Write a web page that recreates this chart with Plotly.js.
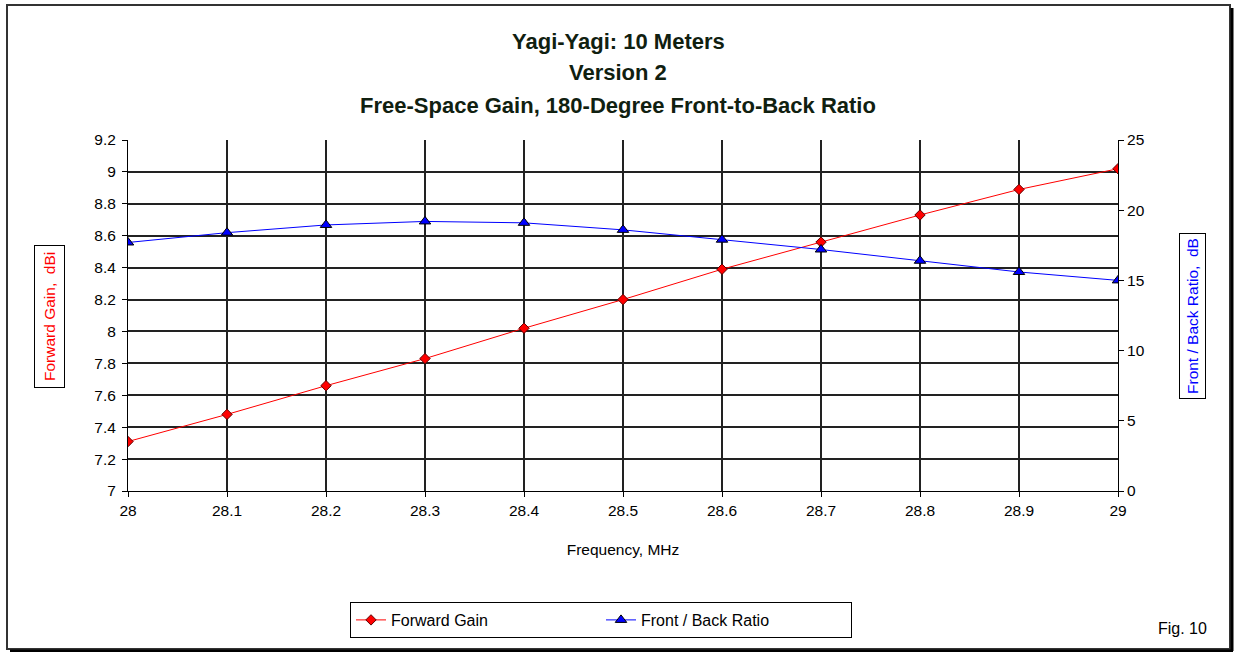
<!DOCTYPE html>
<html>
<head>
<meta charset="utf-8">
<script src="https://cdn.plot.ly/plotly-3.0.1.min.js"></script>
<style>
html,body{margin:0;padding:0;background:#fff;}
#chart{width:1236px;height:652px;}
</style>
</head>
<body>
<div id="chart"></div>
<script>
const frequency = [28, 28.1, 28.2, 28.3, 28.4, 28.5, 28.6, 28.7, 28.8, 28.9, 29];
const forwardGain = [7.31, 7.48, 7.66, 7.83, 8.02, 8.20, 8.39, 8.56, 8.73, 8.89, 9.02];
const frontBack = [17.7, 18.4, 18.95, 19.2, 19.1, 18.6, 17.9, 17.2, 16.4, 15.6, 15.0];
const titleLines = ["Yagi-Yagi: 10 Meters", "Version 2", "Free-Space Gain, 180-Degree Front-to-Back Ratio"];

const W = 1236, H = 652;
const L = 128, R = 118, T = 140, B = 161;
const pw = W - L - R, ph = H - T - B;
const px = x => (x - L) / pw;
const py = y => (H - B - y) / ph;

const tickFont = {family: "Liberation Sans, Arial, sans-serif", size: 15.5, color: "#000"};

const traces = [
  {
    x: frequency, y: forwardGain, name: "Forward Gain", type: "scatter", mode: "lines+markers",
    line: {color: "#ff0000", width: 1},
    marker: {symbol: "diamond", size: 8, color: "#ff0000", line: {color: "#600000", width: 1}},
    yaxis: "y"
  },
  {
    x: frequency, y: frontBack, name: "Front / Back Ratio", type: "scatter", mode: "lines+markers",
    line: {color: "#0000ff", width: 1},
    marker: {symbol: "triangle-up", size: 10, color: "#0000ff", line: {color: "#000", width: 1}},
    yaxis: "y2"
  }
];

const titleYs = [42, 73, 105];
const annotations = titleLines.map((t, i) => ({
  text: "<b>" + t + "</b>", xref: "paper", yref: "paper", x: px(618), y: py(titleYs[i]),
  xanchor: "center", yanchor: "middle", showarrow: false,
  font: {family: "Liberation Sans Narrow, Arial Narrow, Liberation Sans, Arial, sans-serif", size: 22, color: "#102010"}
}));
annotations.push({
  text: "Forward Gain,  dBi", xref: "paper", yref: "paper", x: px(49), y: py(317),
  xanchor: "center", yanchor: "middle", showarrow: false, textangle: -90,
  font: {family: "Liberation Sans, Arial, sans-serif", size: 15.5, color: "#ff0000"},
  bordercolor: "#000", borderwidth: 1, borderpad: 6, bgcolor: "#fff"
});
annotations.push({
  text: "Front / Back Ratio,  dB", xref: "paper", yref: "paper", x: px(1192), y: py(316),
  xanchor: "center", yanchor: "middle", showarrow: false, textangle: -90,
  font: {family: "Liberation Sans, Arial, sans-serif", size: 15.5, color: "#0000ff"},
  bordercolor: "#000", borderwidth: 1, borderpad: 4, bgcolor: "#fff"
});
annotations.push({
  text: "Fig. 10", xref: "paper", yref: "paper", x: px(1182), y: py(628),
  xanchor: "center", yanchor: "middle", showarrow: false,
  font: {family: "Liberation Sans, Arial, sans-serif", size: 16, color: "#000"}
});

const shapes = [
  {type: "rect", xref: "paper", yref: "paper", x0: px(7), x1: px(1230), y0: py(5), y1: py(649),
   line: {color: "#333", width: 2}, fillcolor: "rgba(0,0,0,0)", layer: "below"},
  {type: "line", xref: "paper", yref: "paper", x0: px(1232), x1: px(1232), y0: py(8), y1: py(651),
   line: {color: "#000", width: 3}},
  {type: "line", xref: "paper", yref: "paper", x0: px(10), x1: px(1233), y0: py(651), y1: py(651),
   line: {color: "#000", width: 3}}
];

const layout = {
  width: W, height: H,
  margin: {l: L, r: R, t: T, b: B, pad: 0},
  paper_bgcolor: "#fff", plot_bgcolor: "#fff",
  showlegend: true,
  legend: {
    orientation: "h", x: px(350), y: py(602), xanchor: "left", yanchor: "top",
    bordercolor: "#000", borderwidth: 1, bgcolor: "#fff",
    entrywidth: 205, entrywidthmode: "pixels",
    font: {family: "Liberation Sans, Arial, sans-serif", size: 16, color: "#000"}
  },
  xaxis: {
    range: [28, 29], dtick: 0.1, tick0: 28,
    showgrid: true, gridcolor: "#222", gridwidth: 2,
    showline: true, linecolor: "#000", linewidth: 1, mirror: false,
    ticks: "outside", ticklen: 5, tickcolor: "#000",
    tickfont: tickFont, zeroline: false,
    title: {text: "Frequency, MHz", font: tickFont, standoff: 26}
  },
  yaxis: {
    range: [7, 9.2], dtick: 0.2, tick0: 7,
    showgrid: true, gridcolor: "#222", gridwidth: 2,
    showline: true, linecolor: "#000", linewidth: 1,
    ticks: "outside", ticklen: 5, tickcolor: "#000",
    tickfont: tickFont, zeroline: false, ticklabelstandoff: 3
  },
  yaxis2: {
    range: [0, 25], dtick: 5, tick0: 0, overlaying: "y", side: "right",
    showgrid: false, showline: true, linecolor: "#000", linewidth: 1,
    ticks: "outside", ticklen: 5, tickcolor: "#000",
    tickfont: tickFont, zeroline: false
  },
  annotations: annotations,
  shapes: shapes
};

Plotly.newPlot("chart", traces, layout, {displayModeBar: false, staticPlot: true});
</script>
</body>
</html>
